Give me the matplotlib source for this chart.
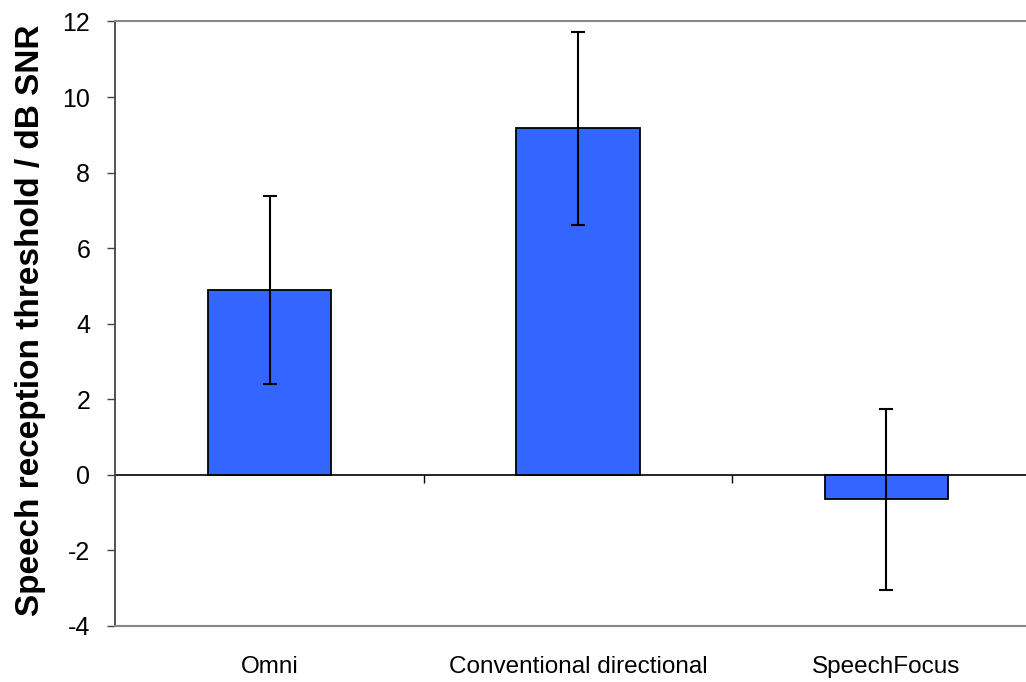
import numpy as np
import matplotlib
matplotlib.use("Agg")
import matplotlib.pyplot as plt
from matplotlib.lines import TICKDOWN

conditions = ["Omni", "Conventional directional", "SpeechFocus"]
srt_means = [4.89, 9.17, -0.65]
srt_errors = [2.48, 2.55, 2.4]
y_ticks = [-4, -2, 0, 2, 4, 6, 8, 10, 12]

plt.rcParams['font.family'] = ['Liberation Sans', 'DejaVu Sans']
plt.rcParams['axes.unicode_minus'] = False


def main():
    fig = plt.figure(figsize=(10.26, 6.82), dpi=100)
    ax = fig.add_axes([0.1124, 0.0826, 0.9017, 0.8859])

    x = np.arange(len(conditions))
    ax.bar(x, srt_means, width=0.4, color="#3366FF", edgecolor="black", linewidth=1.3, zorder=2)
    ax.errorbar(x, srt_means, yerr=srt_errors, fmt="none", ecolor="black",
                elinewidth=1.5, capsize=5, capthick=1.5, zorder=3)

    # zero line with tick marks between categories
    ax.axhline(0, color="black", linewidth=1.2, zorder=1)
    bounds = x[:-1] + 0.5
    ax.plot(bounds, np.zeros(len(bounds)), linestyle="none", marker=TICKDOWN,
            markersize=6, markeredgewidth=1.0, color="black", clip_on=False)

    ax.set_xlim(-0.5, len(conditions) - 0.5)
    ax.set_ylim(-4, 12)
    ax.set_xticks(x)
    ax.set_xticklabels(conditions, fontsize=17.5)
    ax.tick_params(axis="x", length=0, pad=22)
    ax.set_yticks(y_ticks)
    ax.tick_params(axis="y", labelsize=18, length=6, width=1.0, pad=12, color="#444444")

    ax.spines["left"].set_color("#444444")
    ax.spines["left"].set_linewidth(1.3)
    for s in ["top", "bottom", "right"]:
        ax.spines[s].set_color("#888888")
        ax.spines[s].set_linewidth(1.5)

    ax.set_ylabel("Speech reception threshold / dB SNR", fontsize=24, fontweight="bold")
    ax.yaxis.set_label_coords(-0.075, 0.505)

    fig.savefig("out.png", dpi=100)


if __name__ == "__main__":
    main()
